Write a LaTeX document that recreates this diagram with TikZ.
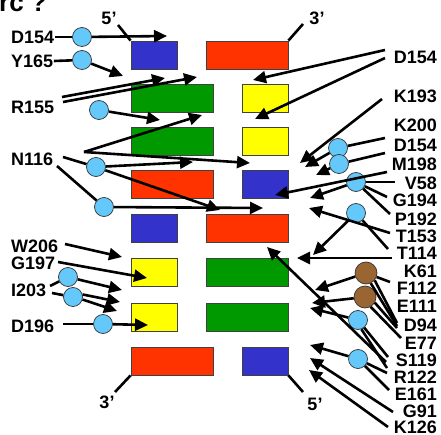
\documentclass[tikz,border=0pt]{standalone}
\usepackage{fontspec}
\setmainfont{Liberation Sans}
\usetikzlibrary{arrows.meta}
\definecolor{cblue}{RGB}{51,51,204}
\definecolor{cred}{RGB}{255,51,0}
\definecolor{cgreen}{RGB}{0,153,0}
\definecolor{cyellow}{RGB}{255,255,0}
\definecolor{cball}{RGB}{100,200,250}
\definecolor{cbrown}{RGB}{153,102,51}
\newcommand{\lbfont}{\fontsize{18}{20}\selectfont\bfseries}
\begin{document}
\begin{tikzpicture}[x=1pt,y=-1pt,
  bx/.style={draw=black!75,line width=0.8pt,minimum height=28pt,inner sep=0pt},
  sm/.style={bx,minimum width=46pt},
  wd/.style={bx,minimum width=82pt},
  ln/.style={line width=2.6pt,draw=black},
  arr/.style={ln,-{Triangle[length=13pt,width=12pt]}},
  bc/.style={circle,draw=black!80,line width=0.7pt,fill=cball,minimum size=19pt,inner sep=0pt},
  brc/.style={circle,draw=black!80,line width=0.7pt,fill=cbrown,minimum size=22pt,inner sep=0pt},
  lab/.style={font=\lbfont,inner sep=0.5pt},
  labl/.style={lab,anchor=west},
  labr/.style={lab,anchor=east}]
\useasboundingbox (0,0) rectangle (441,435);
\clip (0,0) rectangle (441,435);
% partially visible title
\node[anchor=base west,inner sep=0pt,font=\fontsize{26}{28}\selectfont\bfseries] (ttl) at (-1,12) {rc ?};
% boxes
\node[sm,fill=cblue]   (b1L) at (154,55) {};
\node[wd,fill=cred]    (b1R) at (247,55) {};
\node[wd,fill=cgreen]  (b2L) at (172,98) {};
\node[sm,fill=cyellow] (b2R) at (265,98) {};
\node[wd,fill=cgreen]  (b3L) at (172,141) {};
\node[sm,fill=cyellow] (b3R) at (265,141) {};
\node[wd,fill=cred]    (b4L) at (172,184) {};
\node[sm,fill=cblue]   (b4R) at (265,184) {};
\node[sm,fill=cblue]   (b5L) at (154,228) {};
\node[wd,fill=cred]    (b5R) at (247,228) {};
\node[sm,fill=cyellow] (b6L) at (154,272) {};
\node[wd,fill=cgreen]  (b6R) at (247,272) {};
\node[sm,fill=cyellow] (b7L) at (154,317) {};
\node[wd,fill=cgreen]  (b7R) at (247,317) {};
\node[wd,fill=cred]    (b8L) at (172,361) {};
\node[sm,fill=cblue]   (b8R) at (265,361) {};
% ends
\node[lab] (p5t) at (109,18) {5’};
\node[lab] (p3t) at (317,18) {3’};
\node[lab] (p3b) at (107,402) {3’};
\node[lab] (p5b) at (315,404) {5’};
\coordinate (e1) at (118,25); \coordinate (e2) at (303,24);
\coordinate (e3) at (115,392); \coordinate (e4) at (303,392);
\draw[ln] (e1) -- (b1L.north west);
\draw[ln] (e2) -- (b1R.north east);
\draw[ln] (e3) -- (b8L.south west);
\draw[ln] (e4) -- (b8R.south east);
% left labels
\node[labl] (lD154) at (10.5,37) {D154};
\node[labl] (lY165) at (10.5,61) {Y165};
\node[labl] (lR155) at (10.5,107) {R155};
\node[labl] (lN116) at (10.5,159) {N116};
\node[labl] (lW206) at (10.5,246) {W206};
\node[labl] (lG197) at (10.5,263.5) {G197};
\node[labl] (lI203) at (10.5,290) {I203};
\node[labl] (lD196) at (10.5,326) {D196};
% right labels
\node[labr] (rD154a) at (437.5,57) {D154};
\node[labr] (rK193) at (437.5,96) {K193};
\node[labr] (rK200) at (437.5,125) {K200};
\node[labr] (rD154b) at (437.5,145) {D154};
\node[labr] (rM198) at (437.5,164) {M198};
\node[labr] (rV58) at (437.5,183) {V58};
\node[labr] (rG194) at (437.5,200) {G194};
\node[labr] (rP192) at (437.5,219) {P192};
\node[labr] (rT153) at (437.5,236) {T153};
\node[labr] (rT114) at (437.5,253) {T114};
\node[labr] (rK61) at (437.5,271) {K61};
\node[labr] (rF112) at (437.5,288) {F112};
\node[labr] (rE111) at (437.5,306) {E111};
\node[labr] (rD94) at (437.5,325) {D94};
\node[labr] (rE77) at (437.5,343) {E77};
\node[labr] (rS119) at (437.5,360) {S119};
\node[labr] (rR122) at (437.5,377) {R122};
\node[labr] (rE161) at (437.5,394) {E161};
\node[labr] (rG91) at (437.5,411) {G91};
\node[labr] (rK126) at (437.5,427) {K126};
% circles
\node[bc] (c1) at (82,37) {};
\node[bc] (c2) at (82,60) {};
\node[bc] (c3) at (99,110) {};
\node[bc] (cA) at (96,167) {};
\node[bc] (cB) at (104,207) {};
\node[bc] (cK1) at (338,148) {};
\node[bc] (cK2) at (339,164) {};
\node[bc] (cV) at (356,182) {};
\node[bc] (cT) at (356,213) {};
\node[brc] (bK1) at (366,273) {};
\node[brc] (bK2) at (365,297) {};
\node[bc] (cE) at (358,320) {};
\node[bc] (cS) at (358,359) {};
\node[bc] (cI1) at (68,277) {};
\node[bc] (cI2) at (73,297) {};
\node[bc] (cD) at (103,324) {};
% coordinates
\coordinate (t1) at (167,36);
\coordinate (t2) at (123,76);
\coordinate (r1) at (62,97);  \coordinate (t3) at (165,78);
\coordinate (r2) at (63,102); \coordinate (t4) at (197,77);
\coordinate (t5) at (160,120);
\coordinate (v) at (84,152);  \coordinate (t6) at (202,115); \coordinate (t7) at (250,163);
\coordinate (n1) at (63,157); \coordinate (t8) at (193,162); \coordinate (t9) at (220,210);
\coordinate (n2) at (57,166); \coordinate (t10) at (263,208);
\coordinate (d1) at (385,50); \coordinate (t11) at (253,80);
\coordinate (d2) at (385,58); \coordinate (t12) at (255,119);
\coordinate (k1) at (382,99); \coordinate (t13) at (300,163);
\coordinate (k2) at (385,138); \coordinate (t14) at (305,167);
\coordinate (k3) at (385,153); \coordinate (t15) at (316,175);
\coordinate (m1) at (387,172); \coordinate (t16) at (275,195);
\coordinate (v1) at (395,182); \coordinate (v2) at (387,197); \coordinate (v3) at (390,214);
\coordinate (t17) at (310,198);
\coordinate (s1) at (390,233); \coordinate (t18) at (309,208);
\coordinate (v4) at (388,249); \coordinate (t19) at (313,255);
\coordinate (s2) at (392,258); \coordinate (t20) at (297,258);
\coordinate (f1) at (390,282);
\coordinate (dd1) at (397,323); \coordinate (dd2) at (397,326); \coordinate (dd3) at (397,328);
\coordinate (ee1) at (401,338);
\coordinate (t21) at (315,290); \coordinate (t22) at (312,303);
\coordinate (s3) at (388,357); \coordinate (s4) at (387,368); \coordinate (t23) at (310,308);
\coordinate (r3) at (387,373); \coordinate (r4) at (389,390); \coordinate (t24) at (310,345);
\coordinate (s5) at (386,362); \coordinate (t25) at (267,247);
\coordinate (g1) at (393,412); \coordinate (t26) at (310,358);
\coordinate (k4) at (388,427); \coordinate (t27) at (309,370);
\coordinate (w1) at (65,244); \coordinate (t28) at (122,257);
\coordinate (g2) at (58,262); \coordinate (t29) at (147,278);
\coordinate (i1) at (50,286); \coordinate (i2) at (52,293);
\coordinate (t30) at (122,290); \coordinate (t31) at (120,302); \coordinate (t32) at (117,311);
\coordinate (q1) at (63,324); \coordinate (t33) at (148,325);
% left connectors
\draw[ln] (lD154.east) -- (c1); \draw[arr] (c1) -- (t1);
\draw[ln] (lY165.east) -- (c2); \draw[arr] (c2) -- (t2);
\draw[arr] (r1) -- (t3); \draw[arr] (r2) -- (t4);
\draw[arr] (c3) -- (t5);
\draw[arr] (v) -- (t6); \draw[arr] (v) -- (t7);
\draw[ln] (n1) -- (cA); \draw[arr] (cA) -- (t8); \draw[arr] (cA) -- (t9);
\draw[ln] (n2) -- (cB); \draw[arr] (cB) -- (t10);
\draw[arr] (w1) -- (t28);
\draw[arr] (g2) -- (t29);
\draw[ln] (i1) -- (cI1); \draw[ln] (i2) -- (cI2);
\draw[arr] (cI1) -- (t30);
\draw[arr] (cI2.15) -- (t31); \draw[arr] (cI2.-15) -- (t32);
\draw[ln] (q1) -- (cD); \draw[arr] (cD) -- (t33);
% right connectors
\draw[arr] (d1) -- (t11); \draw[arr] (d2) -- (t12);
\draw[arr] (k1) -- (t13);
\draw[ln] (cK1) -- (k2); \draw[arr] (cK1) -- (t14);
\draw[ln] (cK2) -- (k3); \draw[arr] (cK2) -- (t15);
\draw[arr] (m1) -- (t16);
\draw[ln] (cV) -- (v1); \draw[ln] (cV) -- (v2); \draw[ln] (cV) -- (v3);
\draw[arr] (cV) -- (t17);
\draw[arr] (s1) -- (t18);
\draw[ln] (cT) -- (v4); \draw[arr] (cT) -- (t19);
\draw[arr] (s2) -- (t20);
\draw[ln] (bK1) -- (f1);
\draw[ln] (bK1.-40) -- (dd1); \draw[ln] (bK1.-65) -- (dd2);
\draw[ln] (bK2.-30) -- (dd3); \draw[ln] (bK2.-60) -- (ee1);
\draw[arr] (bK1) -- (t21); \draw[arr] (bK2) -- (t22);
\draw[ln] (cE) -- (s3); \draw[ln] (cE.-70) -- (s4); \draw[arr] (cE) -- (t23);
\draw[ln] (cS) -- (r3); \draw[ln] (cS) -- (r4); \draw[arr] (cS) -- (t24);
\draw[arr] (s5) -- (t25);
\draw[arr] (g1) -- (t26);
\draw[arr] (k4) -- (t27);
\end{tikzpicture}
\end{document}
